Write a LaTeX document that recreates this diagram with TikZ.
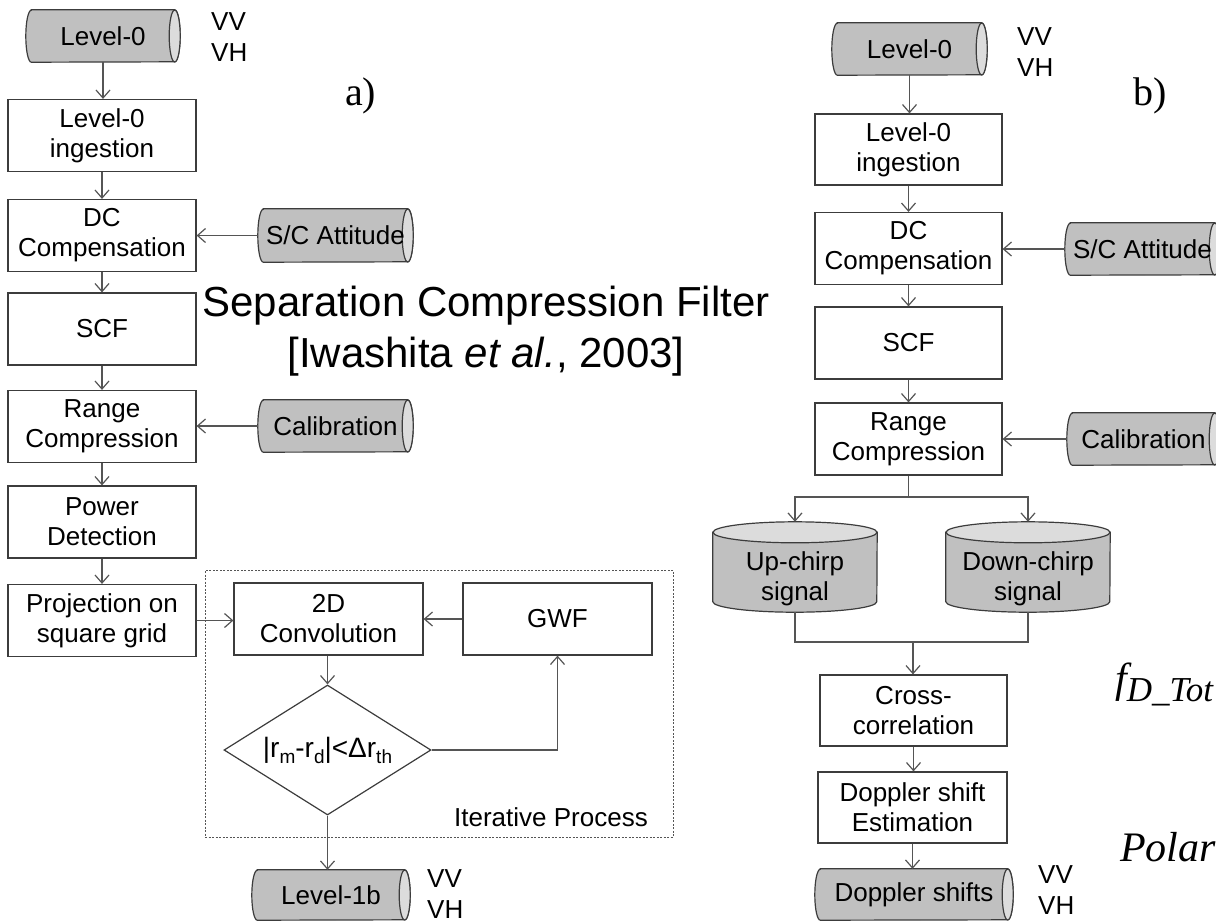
\documentclass[tikz,border=0pt]{standalone}
\usepackage{fontspec}
\setmainfont{Liberation Sans}
\newfontfamily\tnr{Liberation Serif}
\usetikzlibrary{shapes.geometric,arrows.meta,calc,backgrounds}

\definecolor{lineg}{HTML}{555555}
\definecolor{boxg}{HTML}{3C3C3C}
\definecolor{cylbody}{HTML}{C0C0C0}
\definecolor{cylcap}{HTML}{DCDCDC}

\tikzset{
  boxnode/.style={draw=boxg, line width=1.2pt, fill=white, minimum width=188pt, minimum height=72pt, inner sep=0pt, align=center, font=\fontsize{26}{30}\selectfont},
  cylnode/.style={inner sep=0pt, align=center, font=\fontsize{26}{30}\selectfont},
  arr/.style={draw=lineg, line width=1.2pt, -{Straight Barb[length=8pt,width=14pt]}},
  conn/.style={draw=lineg, line width=1.2pt},
  cylline/.style={draw=boxg, line width=1.2pt},
  pollab/.style={anchor=west, align=left, font=\fontsize{26}{31}\selectfont, inner sep=0pt},
  panellab/.style={font=\tnr\fontsize{40}{40}\selectfont, anchor=base west, inner sep=0pt},
}

\newcommand\hcylinder[2]{%
  \draw[cylline, fill=cylbody] ([xshift=5.5pt]#1.north west) -- ([xshift=-5.5pt]#1.north east)
     arc[start angle=90, end angle=-90, x radius=5.5pt, y radius=#2pt]
     -- ([xshift=5.5pt]#1.south west)
     arc[start angle=270, end angle=90, x radius=5.5pt, y radius=#2pt] -- cycle;
  \draw[cylline, fill=cylcap] ([xshift=-5.5pt]#1.east) ellipse[x radius=5.5pt, y radius=#2pt];
}
\newcommand\vcylinder[3]{%
  \draw[cylline, fill=cylbody] ([yshift=-#2pt]#1.north west) -- ([yshift=#2pt]#1.south west)
     arc[start angle=180, end angle=360, x radius=#3pt, y radius=#2pt]
     -- ([yshift=-#2pt]#1.north east) -- cycle;
  \draw[cylline, fill=cylcap] ([yshift=-#2pt]#1.north) ellipse[x radius=#3pt, y radius=#2pt];
}
\newcommand\mysub[1]{\raisebox{-6pt}{\fontsize{19}{19}\selectfont #1}}

\begin{document}
\begin{tikzpicture}[x=1pt,y=-1pt]
\useasboundingbox (0,0) rectangle (1216,922);
\clip (0,0) rectangle (1216,922);

% ---------------- panel a ----------------
\node[cylnode, minimum width=154pt, minimum height=52pt] (l0a) at (103,36) {Level-0};
\node[pollab] (pa1) at (211,37) {VV\\VH};
\node[panellab] (laba) at (345,105) {a)};
\node[boxnode] (inga) at (102,135.5) {Level-0\\ingestion};
\node[boxnode] (dca) at (102,235.5) {DC\\Compensation};
\node[cylnode, minimum width=155pt, minimum height=53pt] (sca) at (335.5,235.5) {S/C Attitude};
\node[boxnode] (scfa) at (102,329) {SCF};
\node[boxnode] (rca) at (102,426.5) {Range\\Compression};
\node[cylnode, minimum width=155pt, minimum height=52pt] (cala) at (335.5,426) {Calibration};
\node[boxnode] (pda) at (102,522) {Power\\Detection};
\node[boxnode] (proja) at (102,620.5) {Projection on\\square grid};

\node[font=\fontsize{42}{51}\selectfont, align=center, inner sep=0pt] (scftext) at (486,331)
  {Separation Compression Filter\\{}[Iwashita \textit{et al.}, 2003]};

\node[draw=lineg, dash pattern=on 2pt off 1.5pt, line width=0.9pt, minimum width=468pt, minimum height=267pt, inner sep=0pt] (iter) at (439,703.5) {};
\node[boxnode, minimum width=189pt] (conv) at (328.5,619) {2D\\Convolution};
\node[boxnode, minimum width=189pt] (gwf) at (557.5,619) {GWF};
\node[diamond, shape aspect=1.6, draw=boxg, line width=1.2pt, minimum width=207pt, minimum height=130pt, inner sep=0pt, font=\fontsize{28}{30}\selectfont] (dia) at (327.5,750)
  {|r\mysub{m}-r\mysub{d}|<Δr\mysub{th}};
\node[font=\fontsize{26}{30}\selectfont, anchor=east, inner sep=0pt] (itlab) at (648,817) {Iterative Process};
\node[cylnode, minimum width=158pt, minimum height=50pt] (l1b) at (331,895) {Level-1b};
\node[pollab] (pa2) at (427,894) {VV\\VH};

% ---------------- panel b ----------------
\node[cylnode, minimum width=155pt, minimum height=52pt] (l0b) at (909.5,49) {Level-0};
\node[pollab] (pb1) at (1017,52) {VV\\VH};
\node[panellab] (labb) at (1133,105) {b)};
\node[boxnode, minimum width=187pt, minimum height=71pt] (ingb) at (908.5,149.5) {Level-0\\ingestion};
\node[boxnode, minimum width=187pt] (dcb) at (908.5,248.5) {DC\\Compensation};
\node[cylnode, minimum width=155pt, minimum height=52pt] (scb) at (1142.5,249) {S/C Attitude};
\node[boxnode, minimum width=187pt] (scfb) at (908.5,343) {SCF};
\node[boxnode, minimum width=187pt] (rcb) at (908.5,439) {Range\\Compression};
\node[cylnode, minimum width=153pt, minimum height=52pt] (calb) at (1143.5,439) {Calibration};

\node[minimum width=164pt, minimum height=90pt, inner sep=0pt] (up) at (795,567) {};
\node[cylnode] (uptxt) at (795,579) {Up-chirp\\signal};
\node[minimum width=164pt, minimum height=90pt, inner sep=0pt] (down) at (1028,567) {};
\node[cylnode] (downtxt) at (1028,579) {Down-chirp\\signal};

\node[boxnode, minimum width=187pt, minimum height=71pt] (cc) at (913.5,710.5) {Cross-\\correlation};
\node[boxnode, minimum width=189pt, minimum height=71pt] (dse) at (912.5,807.5) {Doppler shift\\Estimation};
\node[cylnode, minimum width=198pt, minimum height=51pt] (dsh) at (914,894.5) {Doppler shifts};
\node[pollab] (pb2) at (1038,890) {VV\\VH};

\node[font=\tnr\itshape\fontsize{42}{42}\selectfont, anchor=base west, inner sep=0pt] (fdt) at (1115,692)
  {f\raisebox{-9pt}{\fontsize{35}{35}\selectfont D\_Tot}};
\node[font=\tnr\itshape\fontsize{42}{42}\selectfont, anchor=base west, inner sep=0pt] (polt) at (1120,861) {Polar};

% ---------------- cylinders (background) ----------------
\begin{scope}[on background layer]
  \hcylinder{l0a}{26}
  \hcylinder{sca}{26.5}
  \hcylinder{cala}{26}
  \hcylinder{l1b}{25}
  \hcylinder{l0b}{26}
  \hcylinder{scb}{26}
  \hcylinder{calb}{26}
  \hcylinder{dsh}{25.5}
  \vcylinder{up}{10.5}{82}
  \vcylinder{down}{10.5}{82}
\end{scope}

% ---------------- connectors a ----------------
\draw[arr] (l0a.south) -- (l0a.south |- inga.north);
\draw[arr] (inga.south) -- (dca.north);
\draw[arr] (dca.south) -- (scfa.north);
\draw[arr] (scfa.south) -- (rca.north);
\draw[arr] (rca.south) -- (pda.north);
\draw[arr] (pda.south) -- (proja.north);
\draw[arr] (sca.west) -- (sca.west -| dca.east);
\draw[arr] (cala.west) -- (cala.west -| rca.east);
\draw[arr] (proja.east) -- (proja.east -| conv.west);
\draw[arr] (gwf.west) -- (conv.east);
\draw[arr] (dia.north |- conv.south) -- (dia.north);
\draw[arr] (dia.east) -| (gwf.south);
\draw[arr] (dia.south) -- (dia.south |- l1b.north);

% ---------------- connectors b ----------------
\draw[arr] (l0b.south) -- (l0b.south |- ingb.north);
\draw[arr] (ingb.south) -- (dcb.north);
\draw[arr] (dcb.south) -- (scfb.north);
\draw[arr] (scfb.south) -- (rcb.north);
\draw[arr] (scb.west) -- (scb.west -| dcb.east);
\draw[arr] (calb.west) -- (calb.west -| rcb.east);
\coordinate (split) at (908.5,497);
\draw[conn] (rcb.south) -- (split);
\draw[arr] (split) -| (up.north);
\draw[arr] (split) -| (down.north);
\coordinate (merge) at (913,642);
\draw[conn] (up.south) |- (merge);
\draw[conn] (down.south) |- (merge);
\draw[arr] (merge) -- (merge |- cc.north);
\draw[arr] (cc.south) -- (cc.south |- dse.north);
\draw[arr] (dse.south) -- (dse.south |- dsh.north);
\end{tikzpicture}
\end{document}
